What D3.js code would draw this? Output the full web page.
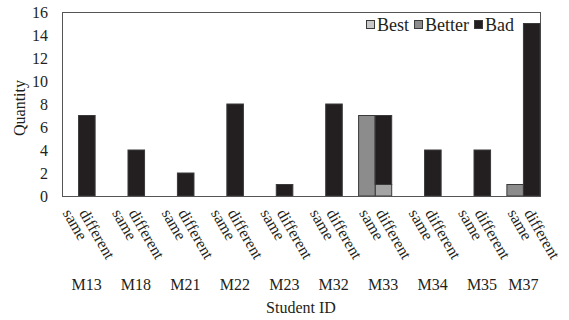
<!DOCTYPE html>
<html>
<head>
<meta charset="utf-8">
<script src="https://cdn.jsdelivr.net/npm/d3@7"></script>
<style>
  html, body { margin: 0; padding: 0; background: #fff; }
  svg { display: block; }
  text { font-family: "Liberation Serif", "Times New Roman", serif; fill: #231f20; }
</style>
</head>
<body>
<svg id="chart" width="569" height="320"></svg>
<script>
const students = ["M13", "M18", "M21", "M22", "M23", "M32", "M33", "M34", "M35", "M37"];
const kinds = ["same", "different"];
const seriesNames = ["Best", "Better", "Bad"];
const yTicks = [0, 2, 4, 6, 8, 10, 12, 14, 16];

const bestSame     = [0, 0, 0, 0, 0, 0, 0, 0, 0, 0];
const betterSame   = [0, 0, 0, 0, 0, 0, 7, 0, 0, 1];
const badSame      = [0, 0, 0, 0, 0, 0, 0, 0, 0, 0];
const bestDiff     = [0, 0, 0, 0, 0, 0, 1, 0, 0, 0];
const betterDiff   = [0, 0, 0, 0, 0, 0, 0, 0, 0, 0];
const badDiff      = [7, 4, 2, 8, 1, 8, 6, 4, 4, 15];

const colors = { Best: "#a4a4a4", Better: "#8c8c8c", Bad: "#231f20" };

const rows = [];
students.forEach((s, i) => {
  rows.push({ student: s, kind: "same", Best: bestSame[i], Better: betterSame[i], Bad: badSame[i] });
  rows.push({ student: s, kind: "different", Best: bestDiff[i], Better: betterDiff[i], Bad: badDiff[i] });
});

const svg = d3.select("#chart");
const margin = { left: 62, right: 29, top: 12, bottom: 124 };
const W = 569, H = 320;
const x0 = margin.left, x1 = W - margin.right;
const yTop = margin.top, yBot = H - margin.bottom;

const xGroup = d3.scaleBand().domain(students).range([x0, x1]).paddingInner(0.33).paddingOuter(0);
const xSub = d3.scaleBand().domain(kinds).range([0, xGroup.bandwidth()]).padding(0);
const y = d3.scaleLinear().domain([0, 16]).range([yBot, yTop]);

// plot frame
svg.append("rect")
  .attr("x", x0 + 0.5).attr("y", yTop + 0.5)
  .attr("width", x1 - x0).attr("height", yBot - yTop)
  .attr("fill", "none").attr("stroke", "#555").attr("stroke-width", 1);

// bars
const stack = d3.stack().keys(seriesNames);
const stacked = stack(rows);
const gBars = svg.append("g");
stacked.forEach(layer => {
  gBars.selectAll(null)
    .data(layer.filter(d => d[1] - d[0] > 0))
    .join("rect")
    .attr("x", d => xGroup(d.data.student) + xSub(d.data.kind))
    .attr("width", xSub.bandwidth())
    .attr("y", d => y(d[1]))
    .attr("height", d => y(d[0]) - y(d[1]))
    .attr("fill", colors[layer.key])
    .attr("stroke", "#3a3a3a")
    .attr("stroke-width", 1);
});

// y axis
const yAxis = d3.axisLeft(y).tickValues(yTicks).tickSize(0).tickPadding(14);
const gy = svg.append("g").attr("transform", `translate(${x0},0)`).call(yAxis);
gy.select(".domain").remove();
gy.selectAll("text").style("font-size", "16px").attr("fill", "#231f20")
  .style("font-family", '"Liberation Serif", serif');

// x axis baseline
svg.append("line")
  .attr("x1", x0).attr("x2", x1 + 1)
  .attr("y1", yBot + 0.5).attr("y2", yBot + 0.5)
  .attr("stroke", "#555").attr("stroke-width", 1);

// rotated sub labels
const gSub = svg.append("g");
rows.forEach(r => {
  const cx = xGroup(r.student) + xSub(r.kind) + xSub.bandwidth() / 2;
  gSub.append("text")
    .attr("transform", `translate(${cx - 8},${yBot + 17}) rotate(60)`)
    .attr("text-anchor", "start")
    .style("font-size", "16px")
    .text(r.kind);
});

// group labels
const gLab = svg.append("g");
students.forEach((s, i) => {
  const cx = xGroup(s) + xGroup.bandwidth() / 2 + (i < students.length - 1 ? 8 : 0);
  gLab.append("text")
    .attr("x", cx).attr("y", 290)
    .attr("text-anchor", "middle")
    .style("font-size", "16px")
    .text(s);
});

// axis titles
svg.append("text")
  .attr("x", (x0 + x1) / 2).attr("y", 313)
  .attr("text-anchor", "middle")
  .style("font-size", "16px")
  .text("Student ID");

svg.append("text")
  .attr("transform", `translate(25,${(yTop + yBot) / 2 + 4}) rotate(-90)`)
  .attr("text-anchor", "middle")
  .style("font-size", "16px")
  .text("Quantity");

// legend
const gLeg = svg.append("g");
const items = [];
let lx = 0;
seriesNames.forEach((n, i) => {
  const g = gLeg.append("g");
  g.append("rect")
    .attr("x", lx + 0.5).attr("y", 20.5)
    .attr("width", 8).attr("height", 8)
    .attr("fill", n === "Best" ? "#c8c8c8" : colors[n])
    .attr("stroke", "#3a3a3a").attr("stroke-width", 1);
  const t = g.append("text")
    .attr("x", lx + 11).attr("y", 31)
    .style("font-size", "18px")
    .text(n);
  lx += 11 + t.node().getComputedTextLength() + 5;
});
const legendRight = 514;
gLeg.attr("transform", `translate(${legendRight - (lx - 5)},0)`);
</script>
</body>
</html>
